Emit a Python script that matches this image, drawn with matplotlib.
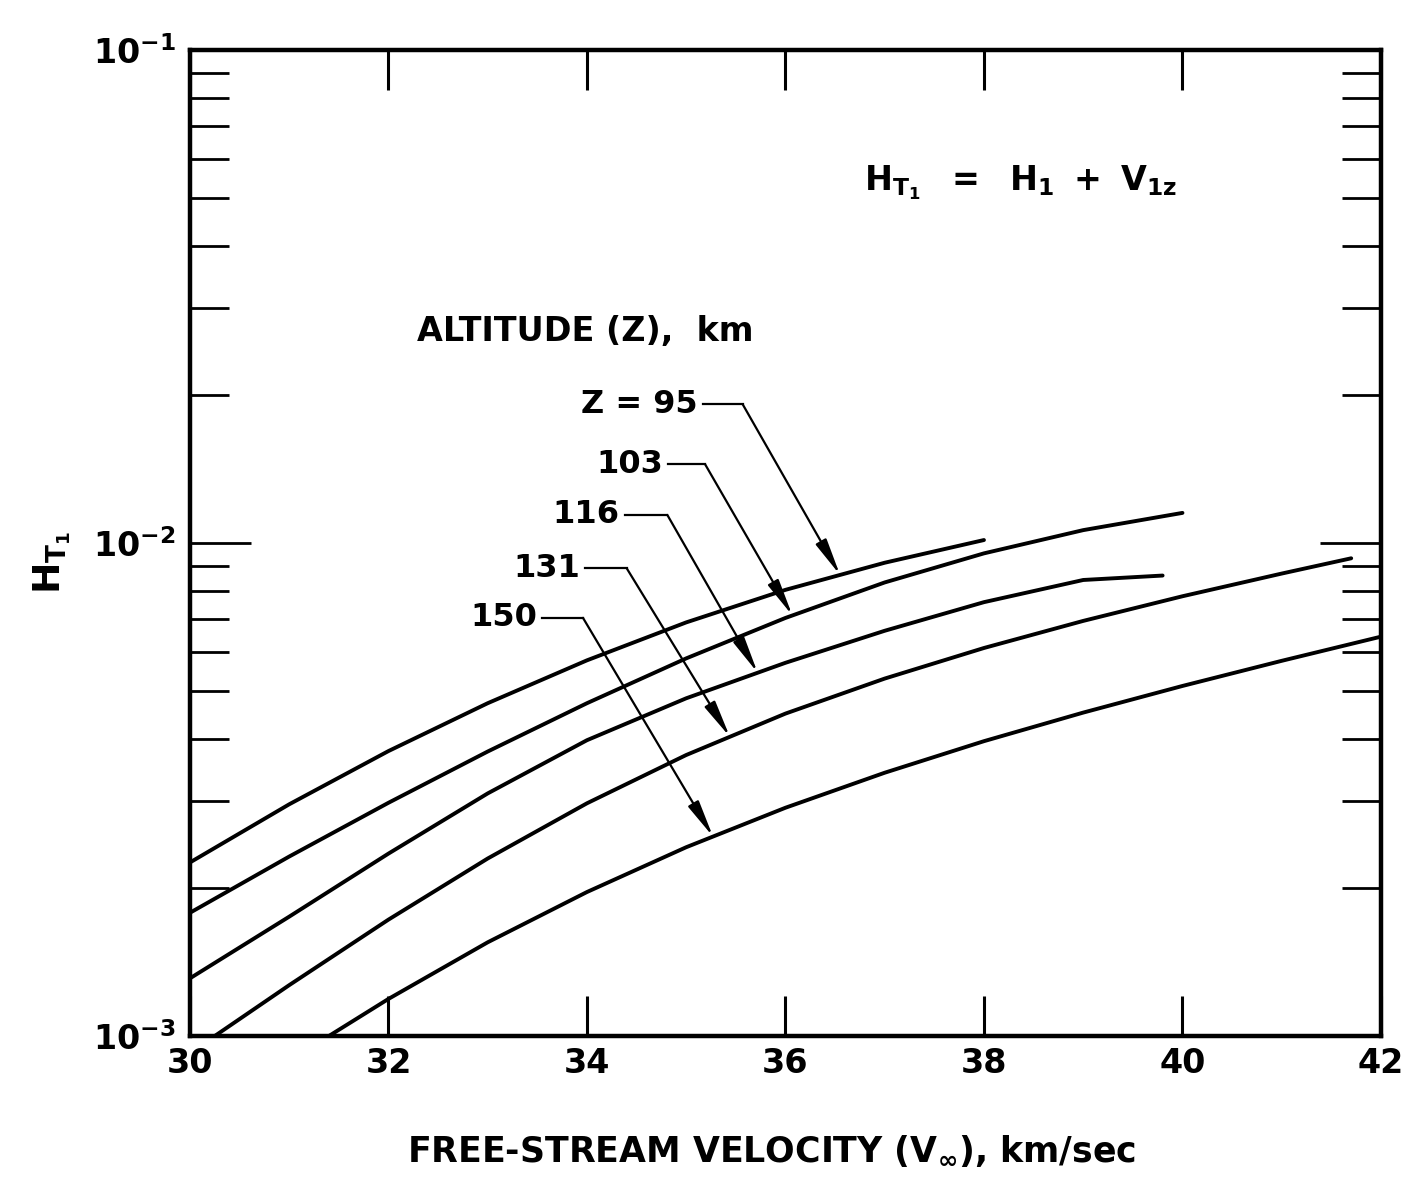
import numpy as np
import matplotlib
matplotlib.use("Agg")
import matplotlib.pyplot as plt
from matplotlib.ticker import FixedLocator, NullFormatter

# =========================
# DATA
# =========================
z95_v = [30, 31, 32, 33, 34, 35, 36, 37, 38]
z95_h = [2.249e-3, 2.951e-3, 3.784e-3, 4.732e-3, 5.781e-3, 6.902e-3, 8.035e-3,
         9.120e-3, 1.014e-2]

z103_v = [30, 31, 32, 33, 34, 35, 36, 37, 38, 39, 40]
z103_h = [1.778e-3, 2.312e-3, 2.972e-3, 3.776e-3, 4.732e-3, 5.834e-3, 7.047e-3,
          8.318e-3, 9.528e-3, 1.062e-2, 1.151e-2]

z116_v = [30, 31, 32, 33, 34, 35, 36, 37, 38, 39, 39.8]
z116_h = [1.309e-3, 1.746e-3, 2.344e-3, 3.105e-3, 3.981e-3, 4.842e-3, 5.715e-3,
          6.637e-3, 7.586e-3, 8.414e-3, 8.59e-3]

z131_v = [30.25, 31, 32, 33, 34, 35, 36, 37, 38, 39, 40, 41, 41.7]
z131_h = [1.0e-3, 1.268e-3, 1.722e-3, 2.291e-3, 2.965e-3, 3.715e-3, 4.508e-3,
          5.309e-3, 6.124e-3, 6.950e-3, 7.798e-3, 8.670e-3, 9.311e-3]

z150_v = [31.4, 32, 33, 34, 35, 36, 37, 38, 39, 40, 41, 42]
z150_h = [1.0e-3, 1.189e-3, 1.549e-3, 1.959e-3, 2.415e-3, 2.904e-3, 3.420e-3,
          3.963e-3, 4.529e-3, 5.129e-3, 5.768e-3, 6.457e-3]

curves = [(z95_v, z95_h), (z103_v, z103_h), (z116_v, z116_h),
          (z131_v, z131_h), (z150_v, z150_h)]

# label text, label anchor (right edge x, y), elbow x, arrow tip x on curve
labels = ["Z = 95", "103", "116", "131", "150"]
label_x = [35.12, 34.77, 34.33, 33.93, 33.50]
label_y = [1.91e-2, 1.445e-2, 1.14e-2, 8.89e-3, 7.05e-3]
elbow_x = [35.57, 35.19, 34.81, 34.40, 33.96]
tip_x = [36.55, 36.07, 35.72, 35.44, 35.27]

x_ticks = [30, 32, 34, 36, 38, 40, 42]

# =========================
# STYLE
# =========================
plt.rcParams["font.family"] = ["DejaVu Sans"]
plt.rcParams["font.weight"] = "bold"
plt.rcParams["mathtext.fontset"] = "custom"
plt.rcParams["mathtext.rm"] = "DejaVu Sans:bold"
plt.rcParams["mathtext.it"] = "DejaVu Sans:bold"
plt.rcParams["mathtext.bf"] = "DejaVu Sans:bold"
plt.rcParams["mathtext.sf"] = "DejaVu Sans:bold"

fig = plt.figure(figsize=(14.08, 11.77), dpi=100)
ax = fig.add_axes([0.1349, 0.1198, 0.9808 - 0.1349, 0.9575 - 0.1198])

# =========================
# CURVES
# =========================
for v, h in curves:
    ax.plot(v, h, color="black", lw=2.8, solid_capstyle="round",
            solid_joinstyle="round")

# =========================
# LABELS WITH LEADER ARROWS
# =========================
for (v, h), txt, lx, ly, ex, tx in zip(curves, labels, label_x, label_y, elbow_x, tip_x):
    ty = 10 ** np.interp(tx, v, np.log10(h))
    ax.text(lx, ly, txt, ha="right", va="center", fontsize=23, fontweight="bold")
    ax.plot([lx + 0.05, ex], [ly, ly], color="black", lw=1.6)
    ax.annotate("", xy=(tx, ty), xytext=(ex, ly),
                arrowprops=dict(arrowstyle="-|>,head_length=1.6,head_width=0.26",
                                mutation_scale=14, color="black", lw=1.6,
                                shrinkA=0, shrinkB=0))

ax.text(0.191, 0.715, "ALTITUDE (Z),  km", transform=ax.transAxes,
        fontsize=24, fontweight="bold", ha="left", va="center")
ax.text(0.566, 0.865, r"$\mathrm{H_{T_1}\ \ =\ \ H_1\ +\ V_{1z}}$", transform=ax.transAxes,
        fontsize=24, ha="left", va="center")

# =========================
# AXES
# =========================
ax.set_yscale("log")
ax.set_xlim(30, 42)
ax.set_ylim(1e-3, 1e-1)

ax.xaxis.set_major_locator(FixedLocator(x_ticks))
ax.set_xticklabels([str(t) for t in x_ticks])
ax.yaxis.set_major_locator(FixedLocator([1e-3, 1e-2, 1e-1]))
ax.set_yticklabels([r"$10^{-3}$", r"$10^{-2}$", r"$10^{-1}$"])
minor = [m * 10.0 ** e for e in (-3, -2) for m in range(2, 10)]
ax.yaxis.set_minor_locator(FixedLocator(minor))
ax.yaxis.set_minor_formatter(NullFormatter())

ax.tick_params(axis="x", which="major", direction="in", top=True, bottom=True,
               length=29, width=2.2, labelsize=24, pad=8)
ax.tick_params(axis="y", which="major", direction="in", left=True, right=True,
               length=44, width=2.0, labelsize=24, pad=10)
ax.tick_params(axis="y", which="minor", direction="in", left=True, right=True,
               length=28, width=2.0)
for lab in ax.get_xticklabels() + ax.get_yticklabels():
    lab.set_fontweight("bold")

for sp in ax.spines.values():
    sp.set_linewidth(3.2)

# axis titles placed in figure coordinates
fig.text(0.548, 1 - 1150 / 1177, r"FREE-STREAM VELOCITY (V$_\infty$), km/sec",
         fontsize=25, fontweight="bold", ha="center", va="center")
fig.text(52 / 1408, 1 - 562 / 1177, r"$\mathrm{H_{T_1}}$", fontsize=27,
         rotation=90, ha="center", va="center")

fig.savefig("out.png", dpi=100)
